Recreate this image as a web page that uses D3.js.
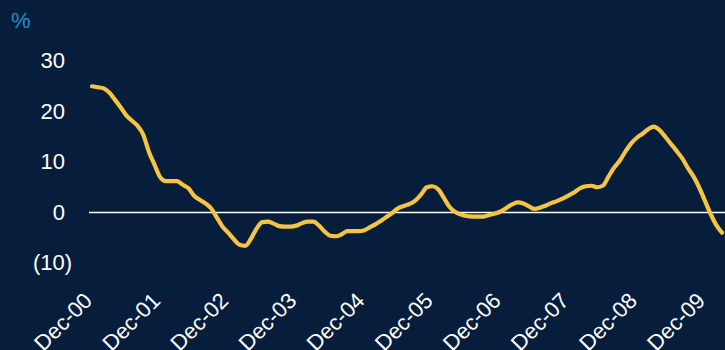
<!DOCTYPE html>
<html>
<head>
<meta charset="utf-8">
<script src="https://cdn.jsdelivr.net/npm/d3@7"></script>
<style>
  html, body { margin: 0; padding: 0; background: #061e3c; }
  svg { display: block; }
  text { font-family: "Liberation Sans", Arial, sans-serif; }
</style>
</head>
<body>
<svg id="chart" width="725" height="350"></svg>
<script>
// Monthly observations, Dec-2000 through Mar-2010 (year-on-year change, %)
const months = d3.utcMonth.range(new Date(Date.UTC(2000, 11, 1)), new Date(Date.UTC(2010, 3, 1)));
const values = [
  25.0, 24.8, 24.6, 23.8, 22.4, 20.9, 19.3, 18.2, 17.2, 15.5, 12.1, 9.5,
  7.0, 6.2, 6.2, 6.2, 5.5, 4.8, 3.3, 2.5, 1.8, 0.8, -1.0, -2.8,
  -4.0, -5.3, -6.4, -6.6, -5.2, -3.2, -1.9, -1.8, -2.2, -2.7, -2.8, -2.8,
  -2.6, -2.1, -1.8, -1.8, -2.6, -3.8, -4.6, -4.7, -4.3, -3.7, -3.7, -3.7,
  -3.5, -2.9, -2.3, -1.6, -0.8, 0.0, 0.9, 1.3, 1.7, 2.4, 3.6, 5.0,
  5.2, 4.6, 2.9, 1.1, 0.1, -0.4, -0.7, -0.8, -0.8, -0.8, -0.5, -0.2,
  0.2, 0.9, 1.6, 2.0, 1.8, 1.2, 0.7, 1.0, 1.4, 1.9, 2.3, 2.8,
  3.4, 4.0, 4.8, 5.2, 5.3, 5.0, 5.3, 7.1, 8.9, 10.3, 12.1, 13.7,
  14.8, 15.6, 16.5, 17.0, 16.3, 15.0, 13.6, 12.2, 10.7, 8.8, 7.1, 4.9,
  2.3, -0.3, -2.5, -4.0
];
const xTickLabels = ["Dec-00", "Dec-01", "Dec-02", "Dec-03", "Dec-04",
                     "Dec-05", "Dec-06", "Dec-07", "Dec-08", "Dec-09"];
const yTicks = [-10, 0, 10, 20, 30];

const fmtMonth = d3.utcFormat("%b-%y");
const categories = months.map(fmtMonth);
const data = categories.map((c, i) => ({ cat: c, value: values[i] }));

const svg = d3.select("#chart");
const W = 725, H = 350;
const FONT = 22;

svg.append("rect").attr("width", W).attr("height", H).attr("fill", "#061e3c");

const x = d3.scalePoint().domain(categories).range([92, 722]);
const y = d3.scaleLinear().domain([-10, 30]).range([263, 61]);

// Y axis labels (accounting format: negatives in parentheses)
const fmtY = v => v < 0 ? `(${Math.abs(v)})` : `${v}`;
svg.append("g")
  .selectAll("text")
  .data(yTicks)
  .join("text")
  .attr("x", d => d < 0 ? 72 : 65)
  .attr("y", d => y(d))
  .attr("dy", "0.32em")
  .attr("text-anchor", "end")
  .attr("fill", "#ffffff")
  .attr("font-size", FONT)
  .text(fmtY);

// Unit label
svg.append("text")
  .attr("x", 11)
  .attr("y", 28)
  .attr("fill", "#1f8fd0")
  .attr("font-size", FONT)
  .text("%");

// X axis labels, rotated
const xAxis = d3.axisBottom(x).tickValues(xTickLabels).tickSize(0).tickPadding(0);
const gx = svg.append("g").attr("transform", "translate(0,302)").call(xAxis);
gx.select(".domain").remove();
gx.selectAll("text")
  .attr("fill", "#ffffff")
  .attr("font-size", FONT)
  .attr("font-family", "'Liberation Sans', Arial, sans-serif")
  .attr("text-anchor", "end")
  .attr("dy", 0)
  .attr("y", 0)
  .attr("transform", "translate(1,0) rotate(-45)");

// Zero line
svg.append("line")
  .attr("x1", 89).attr("x2", 725)
  .attr("y1", y(0)).attr("y2", y(0))
  .attr("stroke", "#ffffff")
  .attr("stroke-width", 1.6);

// Series line
const line = d3.line()
  .x(d => x(d.cat))
  .y(d => y(d.value))
  .curve(d3.curveMonotoneX);

svg.append("path")
  .datum(data)
  .attr("d", line)
  .attr("fill", "none")
  .attr("stroke", "#f5c443")
  .attr("stroke-width", 4.2)
  .attr("stroke-linejoin", "round")
  .attr("stroke-linecap", "round");
</script>
</body>
</html>
